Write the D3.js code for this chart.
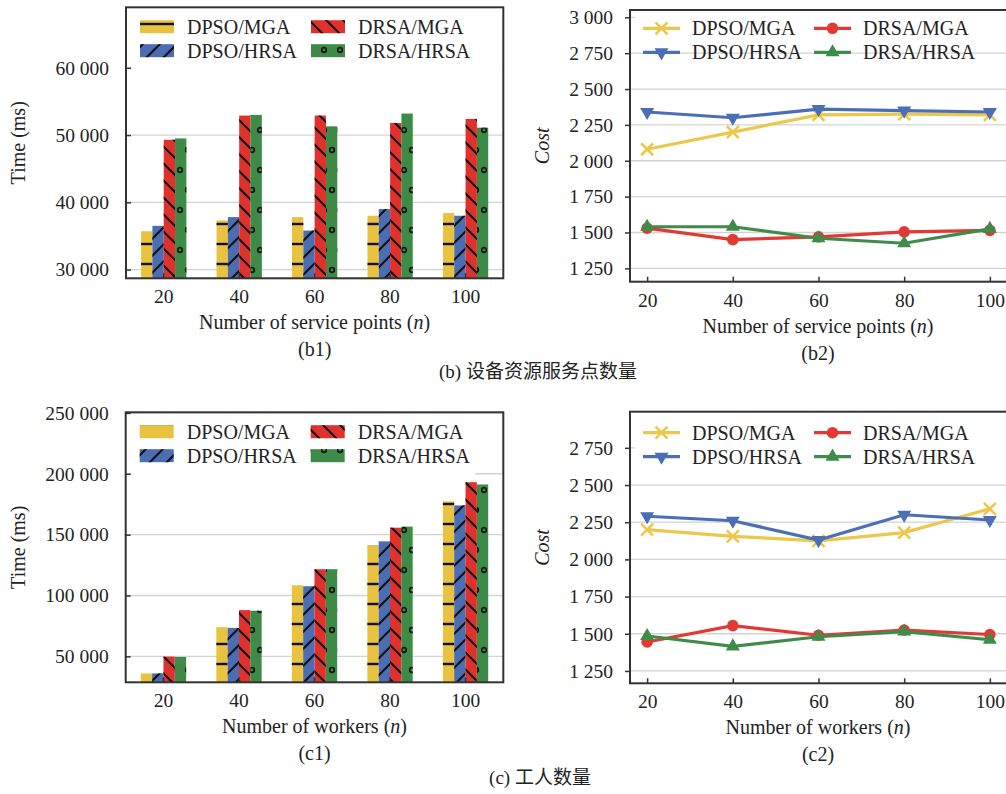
<!DOCTYPE html>
<html>
<head>
<meta charset="utf-8">
<script src="https://cdn.jsdelivr.net/npm/d3@7"></script>
<style>
  body { margin: 0; background: #fff; }
  svg { display: block; }
  text { font-family: "Liberation Serif", "Noto Sans CJK SC", serif; fill: #222; }
</style>
</head>
<body>
<div id="chart"></div>
<script>
// series order as plotted (legend fills column-wise)
var series = ["DPSO/MGA", "DPSO/HRSA", "DRSA/MGA", "DRSA/HRSA"];
var sizes = [20, 40, 60, 80, 100];

// (b1) running time vs number of service points
var b1DpsoMga  = [35700, 37300, 37800, 38000, 38400];
var b1DpsoHrsa = [36500, 37800, 35800, 39000, 38000];
var b1DrsaMga  = [49300, 52900, 52900, 51800, 52400];
var b1DrsaHrsa = [49500, 53000, 51300, 53200, 51100];
var b1Ticks = [30000, 40000, 50000, 60000];

// (b2) cost vs number of service points
var b2DpsoMga  = [2080, 2200, 2320, 2325, 2320];
var b2DpsoHrsa = [2340, 2300, 2360, 2350, 2340];
var b2DrsaMga  = [1530, 1450, 1470, 1505, 1515];
var b2DrsaHrsa = [1540, 1540, 1460, 1425, 1525];
var b2Ticks = [1250, 1500, 1750, 2000, 2250, 2500, 2750, 3000];

// (c1) running time vs number of workers
var c1DpsoMga  = [36000, 74000, 108200, 141200, 177300];
var c1DpsoHrsa = [36000, 73400, 107600, 144500, 174000];
var c1DrsaMga  = [49800, 88000, 121600, 155700, 193100];
var c1DrsaHrsa = [49500, 87500, 121600, 156600, 191200];
var c1Ticks = [50000, 100000, 150000, 200000, 250000];

// (c2) cost vs number of workers
var c2DpsoMga  = [2200, 2155, 2125, 2180, 2340];
var c2DpsoHrsa = [2290, 2260, 2130, 2300, 2265];
var c2DrsaMga  = [1445, 1555, 1490, 1525, 1495];
var c2DrsaHrsa = [1485, 1415, 1480, 1515, 1460];
var c2Ticks = [1250, 1500, 1750, 2000, 2250, 2500, 2750];

var barColors  = ["#E9C23F", "#4A6DB4", "#E1312D", "#3D8B46"];
var lineColors = ["#EBC84B", "#4B6FB6", "#E33934", "#3F8C4A"];
var hatches = ["hatchH", "hatchSlash", "hatchBack", "hatchDots"];
var markers = ["cross", "down", "circle", "up"];

var locale = d3.formatLocale({decimal: ".", thousands: " ", grouping: [3], currency: ["", ""]});
var fmt = locale.format(",");

var svg = d3.select("#chart").append("svg")
  .attr("width", 1006).attr("height", 794);

// hatch patterns (transparent, laid over coloured bars)
var defs = svg.append("defs");
var p = defs.append("pattern").attr("id", "hatchH").attr("patternUnits", "userSpaceOnUse")
  .attr("width", 20).attr("height", 20);
p.append("line").attr("x1", 0).attr("x2", 20).attr("y1", 4).attr("y2", 4)
  .attr("stroke", "#111").attr("stroke-width", 2.4);

p = defs.append("pattern").attr("id", "hatchSlash").attr("patternUnits", "userSpaceOnUse")
  .attr("width", 17).attr("height", 17);
[[0, 17, 17, 0], [-4, 4, 4, -4], [13, 21, 21, 13]].forEach(function(l) {
  p.append("line").attr("x1", l[0]).attr("y1", l[1]).attr("x2", l[2]).attr("y2", l[3])
    .attr("stroke", "#111").attr("stroke-width", 2.1);
});

p = defs.append("pattern").attr("id", "hatchBack").attr("patternUnits", "userSpaceOnUse")
  .attr("width", 17).attr("height", 17);
[[0, 0, 17, 17], [-4, 13, 4, 21], [13, -4, 21, 4]].forEach(function(l) {
  p.append("line").attr("x1", l[0]).attr("y1", l[1]).attr("x2", l[2]).attr("y2", l[3])
    .attr("stroke", "#111").attr("stroke-width", 2.1);
});

p = defs.append("pattern").attr("id", "hatchDots").attr("patternUnits", "userSpaceOnUse")
  .attr("width", 16).attr("height", 40);
[[4, 10], [12, 30]].forEach(function(c) {
  p.append("circle").attr("cx", c[0]).attr("cy", c[1]).attr("r", 2.3)
    .attr("fill", "none").attr("stroke", "#111").attr("stroke-width", 1.7);
});

function frame(g, x0, y0, x1, y1) {
  g.append("rect").attr("x", x0).attr("y", y0).attr("width", x1 - x0).attr("height", y1 - y0)
    .attr("fill", "none").attr("stroke", "#333").attr("stroke-width", 2);
}

function grid(g, y, ticks, x0, x1) {
  g.selectAll(null).data(ticks).enter().append("line")
    .attr("x1", x0).attr("x2", x1)
    .attr("y1", function(d) { return y(d); }).attr("y2", function(d) { return y(d); })
    .attr("stroke", "#d3d3d3").attr("stroke-width", 1.3);
}

function styleAxis(a) {
  a.attr("font-family", null);
  a.select(".domain").remove();
  a.selectAll(".tick line").attr("stroke", "#333").attr("stroke-width", 1.5);
  a.selectAll(".tick text").style("font-size", "19.5px").attr("fill", "#222")
    .style("font-family", "'Liberation Serif', serif");
}

function titles(g, cx, bottom, yTitleX, cy, yTitle, yItalic, xTitle, sub) {
  var t = g.append("text").attr("x", cx).attr("y", bottom + 44).attr("text-anchor", "middle")
    .attr("dominant-baseline", "central").style("font-size", "20px");
  t.append("tspan").text(xTitle + " (");
  t.append("tspan").style("font-style", "italic").text("n");
  t.append("tspan").text(")");
  g.append("text").attr("x", cx).attr("y", bottom + 71).attr("text-anchor", "middle")
    .attr("dominant-baseline", "central").style("font-size", "20px").text(sub);
  g.append("text").attr("transform", "translate(" + yTitleX + "," + cy + ") rotate(-90)")
    .attr("text-anchor", "middle").attr("dominant-baseline", "central")
    .style("font-size", "20px").style("font-style", yItalic ? "italic" : "normal").text(yTitle);
}

function barPanel(cfg) {
  var g = svg.append("g");
  var x = d3.scaleBand().domain(sizes).range([cfg.left, cfg.right])
    .paddingInner(0.4).paddingOuter(0.2);
  var xs = d3.scaleBand().domain(series).range([0, x.bandwidth()]);
  var y = d3.scaleLinear().domain(cfg.yDomain).range([cfg.bottom, cfg.top]);

  grid(g, y, cfg.ticks, cfg.left, cfg.right);
  // legend background hides grid lines behind it
  g.append("rect").attr("x", cfg.left + 5).attr("y", cfg.top + 3)
    .attr("width", cfg.legendRight - cfg.left - 5).attr("height", cfg.legendH).attr("fill", "#fff");

  cfg.values.forEach(function(vals, si) {
    var rows = vals.map(function(v, i) { return {n: sizes[i], v: v}; });
    ["color", "hatch"].forEach(function(layer) {
      g.selectAll(null).data(rows).enter().append("rect")
        .attr("x", function(d) { return x(d.n) + xs(series[si]); })
        .attr("y", function(d) { return y(d.v); })
        .attr("width", xs.bandwidth())
        .attr("height", function(d) { return y(cfg.yDomain[0]) - y(d.v); })
        .attr("fill", layer === "color" ? barColors[si] : "url(#" + hatches[si] + ")");
    });
  });

  var ay = g.append("g").attr("transform", "translate(" + cfg.left + ",0)")
    .call(d3.axisLeft(y).tickValues(cfg.ticks).tickFormat(fmt).tickSizeInner(-5).tickPadding(17));
  styleAxis(ay);
  var ax = g.append("g").attr("transform", "translate(0," + cfg.bottom + ")")
    .call(d3.axisBottom(x).tickSizeInner(-5).tickPadding(11));
  styleAxis(ax);
  frame(g, cfg.left, cfg.top, cfg.right, cfg.bottom);

  // legend, two columns
  series.forEach(function(s, i) {
    var col = Math.floor(i / 2), row = i % 2;
    var lx = cfg.left + 14 + col * 171, ly = cfg.legendY + row * 24;
    ["color", "hatch"].forEach(function(layer) {
      g.append("rect").attr("x", lx).attr("y", ly - 6.5).attr("width", 34).attr("height", 13)
        .attr("fill", layer === "color" ? barColors[i] : "url(#" + hatches[i] + ")");
    });
    g.append("text").attr("x", lx + 47).attr("y", ly).attr("dominant-baseline", "central")
      .style("font-size", "20px").text(s);
  });

  titles(g, (cfg.left + cfg.right) / 2, cfg.bottom, 18, (cfg.top + cfg.bottom) / 2,
    "Time (ms)", false, cfg.xTitle, cfg.sub);
}

function drawMarker(sel, type, color) {
  if (type === "cross") {
    sel.append("path").attr("d", "M-6,-6L6,6M-6,6L6,-6")
      .attr("stroke", color).attr("stroke-width", 2.6).attr("fill", "none");
  } else if (type === "circle") {
    sel.append("circle").attr("r", 5.8).attr("fill", color);
  } else {
    sel.append("path").attr("d", d3.symbol(d3.symbolTriangle, 85)())
      .attr("transform", type === "down" ? "rotate(180)" : null)
      .attr("fill", color);
  }
}

function linePanel(cfg) {
  var g = svg.append("g");
  var x = d3.scaleLinear().domain([16, 104]).range([cfg.left, cfg.right]);
  var y = d3.scaleLinear().domain(cfg.yDomain).range([cfg.bottom, cfg.top]);

  grid(g, y, cfg.ticks, cfg.left, 1006);
  g.append("rect").attr("x", cfg.left + 5).attr("y", cfg.top + 3)
    .attr("width", 1006 - cfg.left - 5).attr("height", cfg.legendH).attr("fill", "#fff");

  var line = d3.line().x(function(d, i) { return x(sizes[i]); }).y(function(d) { return y(d); });
  cfg.values.forEach(function(vals, si) {
    g.append("path").datum(vals).attr("d", line).attr("fill", "none")
      .attr("stroke", lineColors[si]).attr("stroke-width", 3.2);
    vals.forEach(function(v, i) {
      var m = g.append("g").attr("transform", "translate(" + x(sizes[i]) + "," + y(v) + ")");
      drawMarker(m, markers[si], lineColors[si]);
    });
  });

  var ay = g.append("g").attr("transform", "translate(" + cfg.left + ",0)")
    .call(d3.axisLeft(y).tickValues(cfg.ticks).tickFormat(fmt).tickSizeInner(5).tickPadding(12));
  styleAxis(ay);
  var ax = g.append("g").attr("transform", "translate(0," + cfg.bottom + ")")
    .call(d3.axisBottom(x).tickValues(sizes).tickSizeInner(-5).tickPadding(11));
  styleAxis(ax);
  frame(g, cfg.left, cfg.top, cfg.right + 4, cfg.bottom);

  series.forEach(function(s, i) {
    var col = Math.floor(i / 2), row = i % 2;
    var lx = cfg.left + 13 + col * 171, ly = cfg.legendY + row * 24;
    g.append("line").attr("x1", lx).attr("x2", lx + 37).attr("y1", ly).attr("y2", ly)
      .attr("stroke", lineColors[i]).attr("stroke-width", 3.2);
    var m = g.append("g").attr("transform", "translate(" + (lx + 18.5) + "," + ly + ")");
    drawMarker(m, markers[i], lineColors[i]);
    g.append("text").attr("x", lx + 49).attr("y", ly).attr("dominant-baseline", "central")
      .style("font-size", "20px").text(s);
  });

  titles(g, 818, cfg.bottom, 541.7, (cfg.top + cfg.bottom) / 2,
    "Cost", true, cfg.xTitle, cfg.sub);
}

barPanel({left: 126, right: 503.3, top: 7.3, bottom: 278.3, yDomain: [28700, 69000],
  ticks: b1Ticks, values: [b1DpsoMga, b1DpsoHrsa, b1DrsaMga, b1DrsaHrsa],
  legendY: 26.7, legendH: 59, legendRight: 502,
  xTitle: "Number of service points", sub: "(b1)"});

linePanel({left: 630, right: 1007, top: 10, bottom: 281.7, yDomain: [1157, 3051],
  ticks: b2Ticks, values: [b2DpsoMga, b2DpsoHrsa, b2DrsaMga, b2DrsaHrsa],
  legendY: 28.3, legendH: 37,
  xTitle: "Number of service points", sub: "(b2)"});

barPanel({left: 125.7, right: 503.3, top: 412.3, bottom: 682.3, yDomain: [28700, 250500],
  ticks: c1Ticks, values: [c1DpsoMga, c1DpsoHrsa, c1DrsaMga, c1DrsaHrsa],
  legendY: 431.7, legendH: 60, legendRight: 475,
  xTitle: "Number of workers", sub: "(c1)"});

linePanel({left: 630, right: 1007, top: 411.7, bottom: 683.3, yDomain: [1167, 2993],
  ticks: c2Ticks, values: [c2DpsoMga, c2DpsoHrsa, c2DrsaMga, c2DrsaHrsa],
  legendY: 432.7, legendH: 60,
  xTitle: "Number of workers", sub: "(c2)"});

// group captions
svg.append("text").attr("x", 538).attr("y", 371).attr("text-anchor", "middle")
  .attr("dominant-baseline", "central").style("font-size", "19px").text("(b) 设备资源服务点数量");
svg.append("text").attr("x", 540).attr("y", 777).attr("text-anchor", "middle")
  .attr("dominant-baseline", "central").style("font-size", "19px").text("(c) 工人数量");
</script>
</body>
</html>
